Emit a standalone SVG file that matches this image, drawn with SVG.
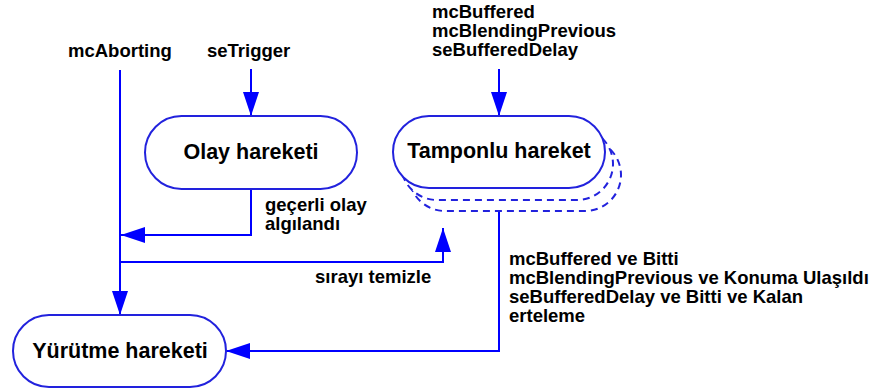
<svg xmlns="http://www.w3.org/2000/svg" width="886" height="392" viewBox="0 0 886 392">
  <defs>
    <style>
      .node { fill: #ffffff; stroke: #2222dd; stroke-width: 2; }
      .shadow { fill: #ffffff; stroke: #2222dd; stroke-width: 2; stroke-dasharray: 7 5; }
      .conn { fill: none; stroke: #0000ff; stroke-width: 2; marker-end: url(#arrow); }
      .lbl { font-family: "Liberation Sans", Arial, sans-serif; font-weight: bold; font-size: 18.5px; fill: #000000; }
      .nlbl { font-family: "Liberation Sans", Arial, sans-serif; font-weight: bold; font-size: 21.5px; fill: #000000; text-anchor: middle; }
    </style>
    <marker id="arrow" viewBox="0 0 24 16" refX="24" refY="8" markerWidth="24" markerHeight="16" markerUnits="userSpaceOnUse" orient="auto">
      <path d="M0,0 L24,8 L0,16 z" fill="#0000ff"/>
    </marker>
  </defs>

  <g id="connectors">
    <path class="conn" d="M251,69 V116"/>
    <path class="conn" d="M499,69 V116"/>
    <path class="conn" d="M120,70 V315"/>
    <path class="conn" d="M251,189 V235 H121"/>
    <path class="conn" d="M120,262 H443 V228"/>
    <path class="conn" d="M499,189 V351 H226"/>
  </g>

  <g id="olay">
    <rect class="node" x="145" y="116" width="212" height="73" rx="36.5" ry="36.5"/>
    <text class="nlbl" x="251" y="159">Olay hareketi</text>
  </g>

  <g id="tamponlu">
    <rect class="shadow" x="409" y="139" width="212" height="72" rx="36" ry="36"/>
    <rect class="shadow" x="401" y="128" width="212" height="72" rx="36" ry="36"/>
    <rect class="node" x="393" y="116" width="212" height="72" rx="36" ry="36"/>
    <text class="nlbl" x="499" y="158">Tamponlu hareket</text>
  </g>

  <g id="yurutme">
    <rect class="node" x="13" y="315" width="213" height="72" rx="36" ry="36"/>
    <text class="nlbl" x="120" y="358">Yürütme hareketi</text>
  </g>

  <g id="labels">
    <text class="lbl" x="68" y="57">mcAborting</text>
    <text class="lbl" x="207" y="57">seTrigger</text>
    <text class="lbl" x="432" y="18">mcBuffered</text>
    <text class="lbl" x="432" y="37">mcBlendingPrevious</text>
    <text class="lbl" x="432" y="56">seBufferedDelay</text>
    <text class="lbl" x="265" y="211">geçerli olay</text>
    <text class="lbl" x="265" y="230">algılandı</text>
    <text class="lbl" x="315" y="283">sırayı temizle</text>
    <text class="lbl" x="509" y="265">mcBuffered ve Bitti</text>
    <text class="lbl" x="509" y="284">mcBlendingPrevious ve Konuma Ulaşıldı</text>
    <text class="lbl" x="509" y="303">seBufferedDelay ve Bitti ve Kalan</text>
    <text class="lbl" x="509" y="322">erteleme</text>
  </g>
</svg>
